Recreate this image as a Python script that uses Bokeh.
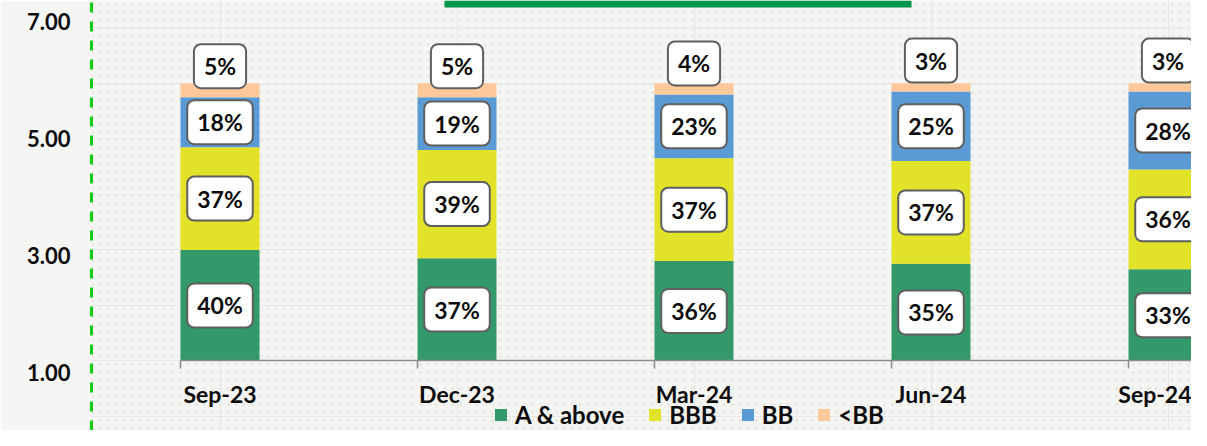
import numpy as np
from bokeh.plotting import figure
from bokeh.models import (ColumnDataSource, Range1d, LinearAxis, FixedTicker,
                          NumeralTickFormatter, BoxAnnotation)
from bokeh.core.properties import value
from bokeh.embed import file_html
from bokeh.resources import INLINE

# ---- data ----
categories = ["Sep-23", "Dec-23", "Mar-24", "Jun-24", "Sep-24"]
series = ["A & above", "BBB", "BB", "<BB"]
a_above = [40, 37, 36, 35, 33]
bbb = [37, 39, 37, 37, 36]
bb = [18, 19, 23, 25, 28]
below_bb = [5, 5, 4, 3, 3]
y_ticks = [1, 3, 5, 7]

# ---- style ----
colors = ["#33996A", "#E2E329", "#5B9BD5", "#FFC89A"]
FONT = "Lato"
BG = "#F5F5F3"
bar_width = 1 / 3

W, H, LEFT = 1191, 430, 91
X0, XPX = -0.5422, 237.0          # x range start, px per category
Y0, YPX = -25.03, 2.777           # y range start, px per percent
x_end = X0 + (W - LEFT) / XPX
y_end = Y0 + H / YPX

x = np.arange(len(categories), dtype=float)

p = figure(width=W, height=H, output_backend="svg", toolbar_location=None,
           x_range=Range1d(X0, x_end), y_range=Range1d(Y0, y_end),
           x_axis_location=None, y_axis_location=None,
           min_border_left=LEFT, min_border_right=0, min_border_top=0, min_border_bottom=0,
           background_fill_color=BG, border_fill_color=BG)
p.outline_line_color = None
p.extra_y_ranges = {"left": Range1d(0.002, 7.365)}

# faint dotted texture
p.add_layout(BoxAnnotation(fill_color=None, line_color=None, hatch_pattern=".",
                           hatch_color="#EAEAE6", hatch_scale=8, hatch_weight=1,
                           level="underlay"))

# green title strip at the very top (cut-off banner)
p.add_layout(BoxAnnotation(left=X0 + (444 - LEFT) / XPX, right=X0 + (911 - LEFT) / XPX,
                           top=y_end, bottom=y_end - 7 / YPX,
                           fill_color="#00964B", fill_alpha=1, line_color=None))

vals = [a_above, bbb, bb, below_bb]
data = {"x": x}
for s, v in zip(series, vals):
    data[s] = v
src = ColumnDataSource(data)
p.vbar_stack(series, x="x", width=bar_width, color=colors, line_color=None,
             source=src, legend_label=series)

# data labels
lx, ly, lt, loff = [], [], [], []
cum = np.zeros(len(categories))
for k, v in enumerate(vals):
    v = np.array(v, dtype=float)
    for i in range(len(categories)):
        lx.append(x[i])
        lt.append(f"{int(v[i])}%")
        if k < len(vals) - 1:
            ly.append(cum[i] + v[i] / 2)
            loff.append(0)
        else:
            ly.append(cum[i])
            loff.append(-31)
    cum += v
lsrc = ColumnDataSource(dict(x=lx, y=ly, t=lt, off=loff))
p.text(x="x", y="y", text="t", y_offset="off", source=lsrc,
       text_font=value(FONT), text_font_style="bold", text_font_size="23px",
       text_color="#0D0D0D", text_align="center", text_baseline="middle",
       background_fill_color="white", border_line_color="#5F5F5F",
       border_line_width=2, border_radius=7, padding=dict(x=10, y=8))

# y axis (left) with green dashed line
yax = LinearAxis(y_range_name="left", ticker=FixedTicker(ticks=y_ticks, minor_ticks=[]),
                 formatter=NumeralTickFormatter(format="0.00"))
yax.axis_line_color = "#14CC14"
yax.axis_line_width = 3
yax.axis_line_dash = "10 9"
yax.major_tick_line_color = None
yax.minor_tick_line_color = None
yax.major_tick_out = 0
yax.major_tick_in = 0
yax.major_label_standoff = 21
yax.major_label_text_font = FONT
yax.major_label_text_font_style = "bold"
yax.major_label_text_font_size = "22px"
yax.major_label_text_color = "#0D0D0D"
p.add_layout(yax, "left")

# x axis at baseline
xax = LinearAxis(fixed_location=0,
                 ticker=FixedTicker(ticks=list(x), minor_ticks=list(x - bar_width / 2)),
                 major_label_overrides={int(i): c for i, c in zip(x, categories)})
xax.bounds = (float(x[0] - bar_width / 2), float(x_end))
xax.axis_line_color = "#8C8C8C"
xax.axis_line_width = 1.5
xax.major_tick_line_color = None
xax.major_tick_out = 0
xax.major_tick_in = 0
xax.minor_tick_line_color = "#8C8C8C"
xax.minor_tick_line_width = 1.5
xax.minor_tick_out = 8
xax.minor_tick_in = 0
xax.major_label_standoff = 11
xax.major_label_text_font = FONT
xax.major_label_text_font_style = "bold"
xax.major_label_text_font_size = "23px"
xax.major_label_text_color = "#0D0D0D"
p.add_layout(xax, "below")

lg = p.legend[0]
lg.orientation = "horizontal"
lg.location = (493 - LEFT, 1)
lg.background_fill_color = None
lg.border_line_color = None
lg.padding = 0
lg.margin = 0
lg.spacing = 23
lg.glyph_width = 15
lg.glyph_height = 15
lg.label_standoff = 7
lg.label_text_font = FONT
lg.label_text_font_style = "bold"
lg.label_text_font_size = "24px"
lg.label_text_color = "#0D0D0D"

open("out.html", "w").write(file_html(p, INLINE))
